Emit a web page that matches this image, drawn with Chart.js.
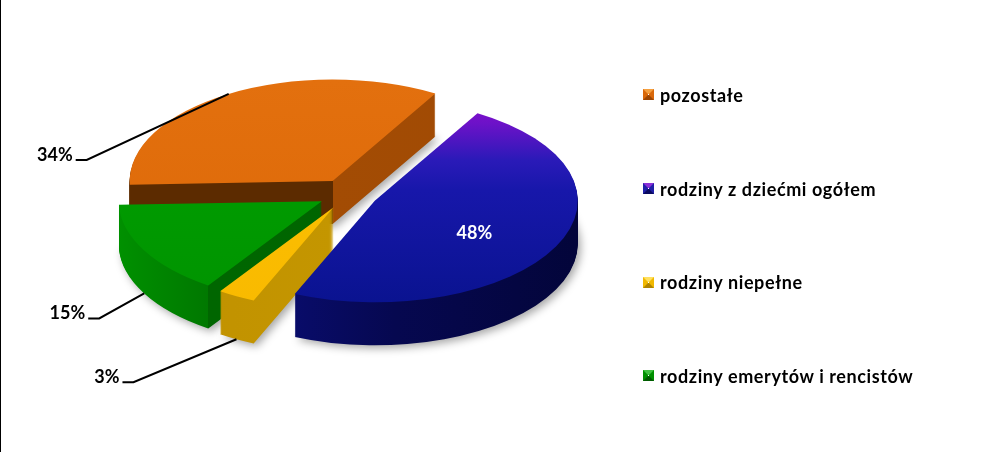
<!DOCTYPE html>
<html>
<head>
<meta charset="utf-8">
<script src="https://cdn.jsdelivr.net/npm/chart.js@4.4.1/dist/chart.umd.min.js"></script>
<style>
    html, body { margin: 0; padding: 0; background: #fff; }
    #wrap { position: relative; width: 981px; height: 452px; overflow: hidden; }
    #wrap:before { content: ''; position: absolute; left: 0; top: 0; width: 1px; height: 100%; background: #000; }
    #legend { position: absolute; left: 643px; top: 48px; font: bold 18px Lato, sans-serif; letter-spacing: 0.6px; color: #000; }
    .item { height: 93.7px; display: flex; align-items: center; }
    .box { width: 1px; height: 1px; border: 5px solid; margin-right: 6px; }
</style>
</head>
<body>
<div id="wrap">
    <canvas id="pie" width="981" height="452"></canvas>
    <div id="legend"></div>
</div>
<script>
// dane
const categories = ['pozostałe', 'rodziny z dziećmi ogółem', 'rodziny niepełne', 'rodziny emerytów i rencistów'];
const shares = [34, 48, 3, 15];

// kolory: gora, sciana (od lewej do prawej), znaczek legendy (gora, boki, dol)
const topColors = [
    [[0, '#e3700e'], [1, '#dd6908']],
    [[0, '#8a0ccc'], [0.12, '#6c12c8'], [0.3, '#2a1ab8'], [0.45, '#1717aa'], [1, '#0a1390']],
    [[0, '#fcc000'], [1, '#f9ba00']],
    [[0, '#00a000'], [1, '#009400']]
];
const wallColors = [
    [[0, '#5c2b00'], [0.5, '#5c2b00'], [0.5, '#a34c04'], [1, '#a04a04']],
    [[0, '#0b1088'], [0.55, '#060850'], [1, '#03053a']],
    [[0, '#c09000'], [1, '#c89c00']],
    [[0, '#009000'], [0.22, '#007800'], [0.22, '#006600'], [1, '#006400']]
];
const markColors = [
    ['#f5a040', '#d9680a', '#9c4604'],
    ['#8a30d8', '#2020a8', '#0a0a60'],
    ['#ffe060', '#f0b800', '#b08400'],
    ['#40c040', '#009000', '#005a00']
];
const leaders = [[-142, 66], null, [-103, 43], [-45, 25]];
const VIEW = { tilt: 0.5, depth: 43, explode: 30, lift: 32 };

function gradient(ctx, x0, y0, x1, y1, stops) {
    const g = ctx.createLinearGradient(x0, y0, x1, y1);
    stops.forEach(s => g.addColorStop(s[0], s[1]));
    return g;
}

function sliceCenter(arc) {
    const mid = (arc.startAngle + arc.endAngle) / 2;
    return {
        x: arc.x + Math.cos(mid) * VIEW.explode,
        y: arc.y - VIEW.lift + Math.sin(mid) * VIEW.explode * VIEW.tilt
    };
}

function surfacePoint(arc, angle, frac, drop) {
    const c = sliceCenter(arc);
    return {
        x: c.x + Math.cos(angle) * arc.outerRadius * frac,
        y: c.y + Math.sin(angle) * arc.outerRadius * frac * VIEW.tilt + drop
    };
}

const pie3d = {
    id: 'pie3d',
    beforeDatasetsDraw(chart) {
        const ctx = chart.ctx;
        const arcs = chart.getDatasetMeta(0).data;

        const paint = (arc, fill, drop, shadow) => {
            const base = arc.options;
            const mid = (arc.startAngle + arc.endAngle) / 2;
            arc.options = Object.assign({}, base, { backgroundColor: fill, borderWidth: 0, offset: 0 });
            ctx.save();
            if (shadow) {
                ctx.shadowColor = 'rgba(0,0,0,0.35)';
                ctx.shadowBlur = 8;
                ctx.shadowOffsetX = 3;
                ctx.shadowOffsetY = 3;
            }
            ctx.translate(0, arc.y - VIEW.lift + drop);
            ctx.scale(1, VIEW.tilt);
            ctx.translate(Math.cos(mid) * VIEW.explode, Math.sin(mid) * VIEW.explode - arc.y);
            arc.draw(ctx);
            ctx.restore();
            arc.options = base;
        };

        for (let d = VIEW.depth; d > 0; d--) {
            arcs.forEach((arc, i) => {
                const r = arc.outerRadius;
                paint(arc, gradient(ctx, arc.x - r, 0, arc.x + r, 0, wallColors[i]), d, d === VIEW.depth);
            });
        }
        arcs.forEach((arc, i) => {
            const r = arc.outerRadius;
            paint(arc, gradient(ctx, 0, arc.y - r, 0, arc.y + r, topColors[i]), 0, false);
        });
        return false;
    },
    afterDraw(chart) {
        const ctx = chart.ctx;
        const arcs = chart.getDatasetMeta(0).data;
        ctx.save();
        ctx.font = 'bold 18px Lato, sans-serif';
        arcs.forEach((arc, i) => {
            const text = shares[i] + '%';
            const mid = (arc.startAngle + arc.endAngle) / 2;
            if (!leaders[i]) {
                const p = surfacePoint(arc, mid, 0.55, 0);
                ctx.fillStyle = '#fff';
                ctx.textAlign = 'center';
                ctx.textBaseline = 'middle';
                ctx.fillText(text, p.x, p.y + 7);
                return;
            }
            const a = surfacePoint(arc, mid, 1, Math.sin(mid) > 0 ? VIEW.depth : 0);
            const e = { x: a.x + leaders[i][0], y: a.y + leaders[i][1] };
            ctx.strokeStyle = '#000';
            ctx.lineWidth = 2;
            ctx.beginPath();
            ctx.moveTo(a.x, a.y);
            ctx.lineTo(e.x, e.y);
            ctx.lineTo(e.x - 11, e.y);
            ctx.stroke();
            ctx.fillStyle = '#000';
            ctx.textAlign = 'right';
            ctx.textBaseline = 'alphabetic';
            ctx.fillText(text, e.x - 14, e.y + 1);
        });
        ctx.restore();
    }
};

const chart = new Chart(document.getElementById('pie'), {
    type: 'pie',
    data: {
        labels: categories,
        datasets: [{
            data: shares,
            backgroundColor: markColors.map(c => c[1]),
            borderWidth: 0,
            radius: 203
        }]
    },
    options: {
        responsive: false,
        animation: false,
        devicePixelRatio: 1,
        events: [],
        rotation: 268,
        layout: { padding: { right: 285 } },
        plugins: { legend: { display: false }, tooltip: { enabled: false } }
    },
    plugins: [pie3d]
});

// legenda
const legend = document.getElementById('legend');
chart.data.labels.forEach((name, i) => {
    const c = markColors[i];
    const row = document.createElement('div');
    row.className = 'item';
    row.innerHTML = '<span class="box" style="border-color:' + c[0] + ' ' + c[1] + ' ' + c[2] + ' ' + c[1] + '"></span>' + name;
    legend.appendChild(row);
});
</script>
</body>
</html>
